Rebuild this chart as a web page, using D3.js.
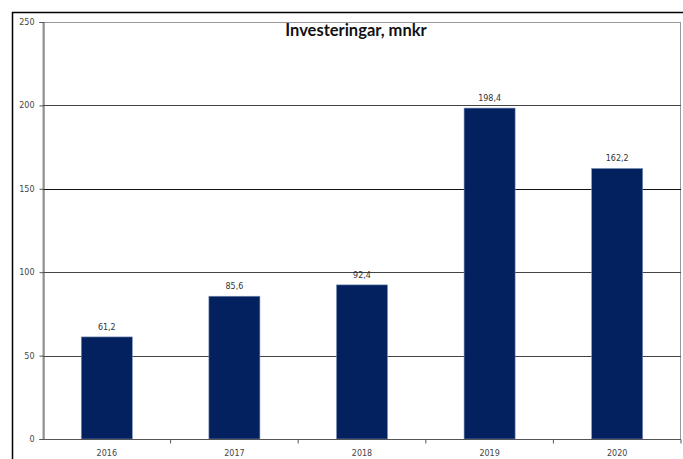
<!DOCTYPE html>
<html>
<head>
<meta charset="utf-8">
<script src="https://cdn.jsdelivr.net/npm/d3@7"></script>
<style>
  body { margin: 0; background: #fff; }
</style>
</head>
<body>
<div class="chart"></div>
<script>
// size of the page
const w = 683;
const h = 459;

// data
const years = ["2016", "2017", "2018", "2019", "2020"];
const values = [61.2, 85.6, 92.4, 198.4, 162.2];
const yTicks = [0, 50, 100, 150, 200, 250];
const title = "Investeringar, mnkr";

// plot area
const pLeft = 43, pRight = 681, pTop = 22, pBottom = 439;

const svg = d3.select(".chart").append("svg")
  .attr("width", w)
  .attr("height", h);

// outer frame of the chart object
svg.append("rect")
  .attr("x", 12.5).attr("y", 12.5)
  .attr("width", w + 20).attr("height", h + 20)
  .attr("fill", "none")
  .attr("stroke", "#000")
  .attr("stroke-width", 1.5);

const x = d3.scaleBand()
  .domain(years)
  .range([pLeft, pRight])
  .paddingInner(0.6)
  .paddingOuter(0.3);

const y = d3.scaleLinear()
  .domain([0, 250])
  .range([pBottom, pTop]);

// plot area border
svg.append("rect")
  .attr("x", pLeft).attr("y", pTop + 0.5)
  .attr("width", pRight - pLeft - 0.5).attr("height", pBottom - pTop)
  .attr("fill", "none")
  .attr("stroke", "#999");

// gridlines
svg.append("g")
  .selectAll("line")
  .data(yTicks.filter(d => d > 0 && d < 250))
  .join("line")
  .attr("x1", pLeft).attr("x2", pRight)
  .attr("y1", d => Math.round(y(d)) + 0.5)
  .attr("y2", d => Math.round(y(d)) + 0.5)
  .attr("stroke", d => d === 150 ? "#111" : "#444");

// bars
svg.append("g")
  .selectAll("rect")
  .data(values)
  .join("rect")
  .attr("x", (d, i) => x(years[i]))
  .attr("y", d => y(d))
  .attr("width", x.bandwidth())
  .attr("height", d => pBottom - y(d))
  .attr("fill", "#03205f")
  .attr("stroke", "#7f93b8")
  .attr("stroke-width", 0.6);

// value labels
svg.append("g")
  .selectAll("text")
  .data(values)
  .join("text")
  .attr("x", (d, i) => x(years[i]) + x.bandwidth() / 2)
  .attr("y", d => y(d) - 7)
  .attr("text-anchor", "middle")
  .attr("font-family", "DejaVu Sans, Verdana, sans-serif")
  .attr("font-size", 8)
  .attr("fill", "#333")
  .text(d => d.toFixed(1).replace(".", ","));

// y axis
const yAxis = d3.axisLeft(y)
  .tickValues(yTicks)
  .tickSize(4)
  .tickPadding(5);

const gy = svg.append("g")
  .attr("transform", `translate(${pLeft + 0.5},0)`)
  .call(yAxis);
gy.select(".domain").attr("stroke", "#555");
gy.selectAll(".tick line").attr("stroke", "#555");
gy.selectAll(".tick text")
  .attr("font-family", "DejaVu Sans, Verdana, sans-serif")
  .attr("font-size", 8)
  .attr("fill", "#444");

// x axis with ticks between categories
const step = x.step();
const gx = svg.append("g")
  .attr("transform", `translate(0,${pBottom + 0.5})`);
gx.append("line")
  .attr("x1", pLeft).attr("x2", pRight)
  .attr("stroke", "#555");
gx.selectAll(".sep")
  .data(years)
  .join("line")
  .attr("class", "sep")
  .attr("x1", d => x(d) + x.bandwidth() / 2 + step / 2)
  .attr("x2", d => x(d) + x.bandwidth() / 2 + step / 2)
  .attr("y1", 0).attr("y2", 4)
  .attr("stroke", "#555");
gx.selectAll(".lbl")
  .data(years)
  .join("text")
  .attr("class", "lbl")
  .attr("x", d => x(d) + x.bandwidth() / 2)
  .attr("y", 16)
  .attr("text-anchor", "middle")
  .attr("font-family", "DejaVu Sans, Verdana, sans-serif")
  .attr("font-size", 8)
  .attr("fill", "#444")
  .text(d => d);

// title
svg.append("text")
  .attr("x", 356)
  .attr("y", 36)
  .attr("text-anchor", "middle")
  .attr("font-family", "Lato, Open Sans, sans-serif")
  .attr("font-weight", "bold")
  .attr("font-size", 16.5)
  .attr("fill", "#111")
  .text(title);
</script>
</body>
</html>
